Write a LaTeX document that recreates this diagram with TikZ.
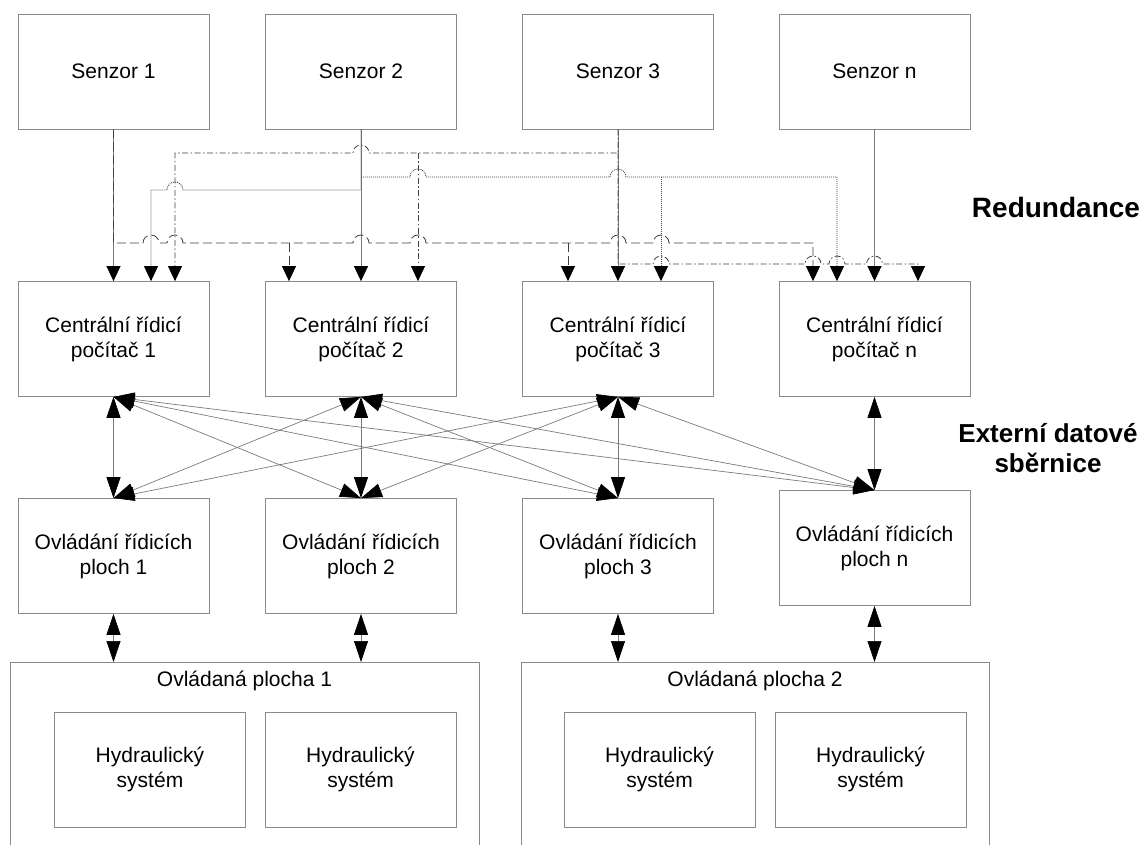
\documentclass[tikz,border=0pt]{standalone}
\usepackage{fontspec}
\setmainfont{Liberation Sans}
\usetikzlibrary{arrows.meta}
% small semicircular bridge where a horizontal line crosses a vertical one
\newcommand\jumpover[2]{-- (#1-8,#2) arc[start angle=180,end angle=0,radius=8]}
\newcommand\jumpleft[2]{-- (#1+8,#2) arc[start angle=0,end angle=180,radius=8]}
\definecolor{boxgray}{HTML}{8A8A8A}
\definecolor{linkgray}{HTML}{7A7A7A}
\definecolor{darklink}{HTML}{404040}
\begin{document}
\begin{tikzpicture}[x=1pt,y=1pt,
  box/.style={draw=boxgray, line width=0.8pt, minimum width=191pt, minimum height=115pt,
    inner sep=0pt, align=center, font=\fontsize{21}{25}\selectfont},
  caption/.style={inner sep=0pt, font=\fontsize{21}{25}\selectfont},
  link/.style={draw=linkgray, line width=0.7pt},
  feed/.style={-{Triangle[length=15pt,width=14pt,color=black]}},
  busline/.style={link, {Triangle[length=21pt,width=14pt,color=black]}-{Triangle[length=21pt,width=14pt,color=black]}},
  dashpat/.style={draw=darklink, line width=0.8pt, dash pattern=on 9pt off 4pt},
  dotpat/.style={draw=darklink, line width=0.8pt, dash pattern=on 1pt off 1pt},
  dashdotpat/.style={draw=darklink, line width=0.8pt, dash pattern=on 6pt off 2.5pt on 1.5pt off 2.5pt},
  title/.style={inner sep=0pt, align=center, font=\bfseries\fontsize{28}{32}\selectfont}]
\useasboundingbox (0,0) rectangle (1143,-845);
\clip (0,0) rectangle (1143,-845);

% sensors
\node[box] (s1) at (113.5,-71.5) {Senzor 1};
\node[box] (s2) at (361,-71.5) {Senzor 2};
\node[box] (s3) at (618,-71.5) {Senzor 3};
\node[box] (sn) at (874.5,-71.5) {Senzor n};

% central control computers
\node[box] (c1) at (113.5,-339) {Centrální řídicí\\počítač 1};
\node[box] (c2) at (361,-339) {Centrální řídicí\\počítač 2};
\node[box] (c3) at (618,-339) {Centrální řídicí\\počítač 3};
\node[box] (cn) at (874.5,-339) {Centrální řídicí\\počítač n};

% control surface drivers
\node[box] (o1) at (113.5,-556) {Ovládání řídicích\\ploch 1};
\node[box] (o2) at (361,-556) {Ovládání řídicích\\ploch 2};
\node[box] (o3) at (618,-556) {Ovládání řídicích\\ploch 3};
\node[box] (on) at (874.5,-548) {Ovládání řídicích\\ploch n};

% controlled surfaces (open at the lower edge)
\node[box, minimum width=469pt, minimum height=230pt, anchor=north] (p1) at (244.5,-662) {};
\node[box, minimum width=468pt, minimum height=230pt, anchor=north] (p2) at (755,-662) {};
\node[caption] (p1t) at (244.5,-681) {Ovládaná plocha 1};
\node[caption] (p2t) at (755,-681) {Ovládaná plocha 2};
\node[box] (h11) at (150,-769.5) {Hydraulický\\systém};
\node[box] (h12) at (360.5,-769.5) {Hydraulický\\systém};
\node[box] (h21) at (659.5,-769.5) {Hydraulický\\systém};
\node[box] (h22) at (870.5,-769.5) {Hydraulický\\systém};

% side titles
\node[title] (red) at (1056,-207) {Redundance};
\node[title, font=\bfseries\fontsize{26}{30}\selectfont] (ext) at (1048,-448) {Externí datové\\sběrnice};

% direct sensor feeds
\foreach \s/\c in {s1/c1,s2/c2,s3/c3,sn/cn}
  \draw[link, feed] (\s.south) -- (\c.north);

% sensor 1, dashed distribution
\draw[link, dashpat, feed] (s1.south) -- (113.5,-243)
  \jumpover{151}{-243} \jumpover{175}{-243} \jumpover{361}{-243}
  \jumpover{418}{-243} \jumpover{618}{-243} \jumpover{661}{-243}
  -- (813,-243) -- ([xshift=-61.5pt]cn.north);
\draw[link, dashpat, feed] (289,-243) -- ([xshift=-72pt]c2.north);
\draw[link, dashpat, feed] (568,-243) -- ([xshift=-50pt]c3.north);

% sensor 2, dotted distribution
\draw[link, dotpat, feed] (s2.south) -- (361,-190) \jumpleft{175}{-190}
  -- (151,-190) -- ([xshift=37.5pt]c1.north);
\draw[link, dotpat, feed] (361,-177) \jumpover{418}{-177} \jumpover{618}{-177}
  -- (837,-177) -- ([xshift=-37.5pt]cn.north);
\draw[link, dotpat, feed] (661,-177) -- ([xshift=43pt]c3.north);

% sensor 3, dash-dot distribution
\draw[link, dashdotpat, feed] (s3.south) -- (618,-153) \jumpleft{361}{-153}
  -- (175,-153) -- ([xshift=61.5pt]c1.north);
\draw[link, dashdotpat, feed] (418,-153) -- ([xshift=57pt]c2.north);
\draw[link, dashdotpat, feed] (618,-153) -- (618,-264)
  \jumpover{661}{-264} \jumpover{813}{-264} \jumpover{837}{-264} \jumpover{874.5}{-264}
  -- (918,-264) -- ([xshift=43.5pt]cn.north);

% external data buses
\foreach \c in {c1,c2,c3}
  \foreach \o in {o1,o2,o3,on}
    \draw[busline] (\c.south) -- (\o.north);
\draw[busline] (cn.south) -- (on.north);

% links to the controlled surfaces
\draw[busline] (o1.south) -- (p1.north -| o1.south);
\draw[busline] (o2.south) -- (p1.north -| o2.south);
\draw[busline] (o3.south) -- (p2.north -| o3.south);
\draw[busline] (on.south) -- (p2.north -| on.south);
\end{tikzpicture}
\end{document}
